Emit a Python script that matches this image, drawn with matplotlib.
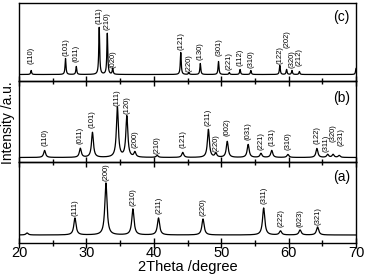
import numpy as np
import matplotlib
matplotlib.use("Agg")
import matplotlib.pyplot as plt
from matplotlib.ticker import MultipleLocator

plt.rcParams['font.family'] = ['Liberation Sans', 'DejaVu Sans']

# ---- data: peak lists (2theta, relative height, FWHM) ----
c_pos = [21.8, 26.9, 28.5, 31.9, 33.1, 33.9, 44.0, 45.2, 46.9, 49.6, 51.2, 52.8, 54.4, 58.7, 59.7, 60.5, 61.6, 70.0]
c_hgt = [4, 16, 8, 47, 41, 6, 22, 2, 11, 13, 2, 5, 4, 9, 5, 4, 3, 6]
c_lab = ['(110)', '(101)', '(011)', '(111)', '(210)', '(020)', '(121)', '(220)', '(130)', '(301)',
         '(221)', '(112)', '(310)', '(122)', '(202)', '(320)', '(212)', '']
c_laby = [9, 18, 11, 49, 43, 6, 24, 2, 13, 17, 3, 7, 5, 10, 25, 5, 7, 0]

b_pos = [23.8, 29.1, 30.9, 34.6, 36.0, 37.2, 40.5, 44.3, 48.1, 49.2, 50.9, 54.0, 55.9, 57.5, 59.9, 64.2, 65.8, 66.6, 67.5]
b_hgt = [7, 9, 25, 50, 41, 5, 2, 5, 28, 4, 16, 13, 4, 7, 3, 9, 3, 3, 2]
b_lab = ['(110)', '(011)', '(101)', '(111)', '(120)', '(200)', '(210)', '(121)', '(211)', '(220)',
         '(002)', '(031)', '(221)', '(131)', '(310)', '(122)', '(311)', '(320)', '(231)']
b_laby = [10, 12, 28, 50, 42, 9, 2, 9, 30, 5, 20, 17, 7, 10, 7, 12, 5, 14, 10]
b_labx = [23.8, 29.1, 30.9, 34.6, 36.0, 37.2, 40.5, 44.3, 48.1, 49.2, 50.9, 54.0, 55.9, 57.5, 59.9, 64.2, 65.6, 66.6, 67.8]

a_pos = [21.2, 28.3, 32.9, 36.9, 40.7, 47.3, 56.3, 58.8, 61.7, 64.3]
a_hgt = [2, 17, 52, 26, 17, 16, 27, 4, 5, 8]
a_lab = ['', '(111)', '(200)', '(210)', '(211)', '(220)', '(311)', '(222)', '(023)', '(321)']
a_laby = [0, 18, 53, 28, 20, 18, 30, 7, 7, 9]

panels = ['(c)', '(b)', '(a)']
widths = [0.16, 0.35, 0.4]

x = np.linspace(20, 70, 2501)


def profile(pos, hgt, w):
    y = np.zeros_like(x)
    for p, h in zip(pos, hgt):
        g = (w / 2) ** 2 / ((x - p) ** 2 + (w / 2) ** 2)
        y += h * g
    return y


fig = plt.figure(figsize=(3.65, 2.74), dpi=100)
gs = fig.add_gridspec(3, 1, left=19/365, right=356/365, top=1-3/274, bottom=1-243/274,
                      hspace=0, height_ratios=[78, 81, 81])
ylims = [(-6.5, 71.5), (-4.5, 76.5), (-8, 73)]
data = [(c_pos, c_hgt, c_lab, c_laby, c_pos), (b_pos, b_hgt, b_lab, b_laby, b_labx),
        (a_pos, a_hgt, a_lab, a_laby, a_pos)]
lab_y = [0.82, 0.79, 0.81]

axes = []
for i in range(3):
    ax = fig.add_subplot(gs[i])
    ax.patch.set_alpha(0)
    pos, hgt, lab, laby, labx = data[i]
    ax.plot(x, profile(pos, hgt, widths[i]), color='black', lw=0.9)
    for p, t, ly in zip(labx, lab, laby):
        if t:
            ax.text(p, ly + 1, t, rotation=90, ha='center', va='bottom', fontsize=5.5)
    ax.set_xlim(20, 70)
    ax.set_ylim(*ylims[i])
    ax.set_yticks([])
    ax.xaxis.set_major_locator(MultipleLocator(10))
    ax.xaxis.set_minor_locator(MultipleLocator(5))
    ax.tick_params(axis='x', which='major', direction='inout', length=7, width=1, labelsize=10.5, pad=-1)
    ax.tick_params(axis='x', which='minor', direction='inout', length=4, width=1)
    if i < 2:
        ax.tick_params(axis='x', labelbottom=False)
    for s in ax.spines.values():
        s.set_linewidth(1)
    ax.text(0.982, lab_y[i], panels[i], transform=ax.transAxes, ha='right', va='center', fontsize=10)
    axes.append(ax)

fig.text(187.5/365, 1 - 267/274, '2Theta /degree', ha='center', va='center', fontsize=10.5)
fig.text(0.022, (1 - 123/274), 'Intensity /a.u.', rotation=90, ha='center', va='center', fontsize=10)

fig.savefig('out.png', dpi=100)
